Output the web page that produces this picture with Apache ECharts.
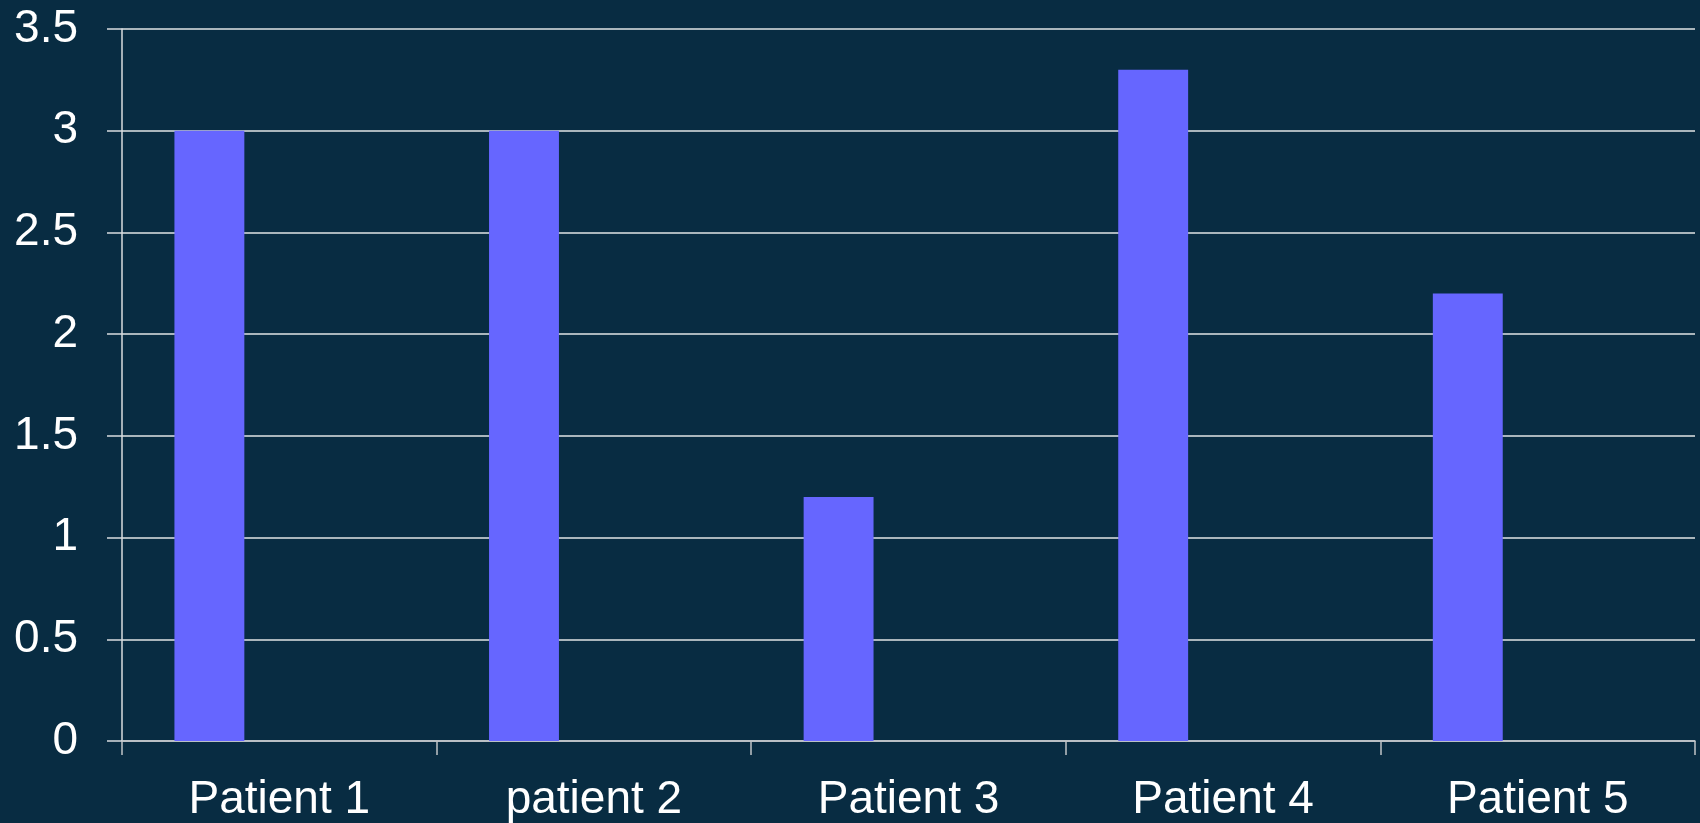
<!DOCTYPE html>
<html>
<head>
<meta charset="utf-8">
<script src="https://cdn.jsdelivr.net/npm/echarts@6/dist/echarts.min.js"></script>
<style>
html,body{margin:0;padding:0;background:#082c42;}
#chart{width:1700px;height:823px;}
</style>
</head>
<body>
<div id="chart"></div>
<script>
const categories = ['Patient 1', 'patient 2', 'Patient 3', 'Patient 4', 'Patient 5'];
const series1 = [3, 3, 1.2, 3.3, 2.2];
const series2 = [];
const series3 = [];
const yTicks = [0, 0.5, 1, 1.5, 2, 2.5, 3, 3.5];

const chart = echarts.init(document.getElementById('chart'));
const font = 'Liberation Sans, Arial, sans-serif';
chart.setOption({
  backgroundColor: '#082c42',
  animation: false,
  grid: { left: 122, right: 5, top: 29, bottom: 82 },
  xAxis: {
    type: 'category',
    data: categories,
    boundaryGap: true,
    axisLine: { lineStyle: { color: '#c0c4c8', width: 1.5 } },
    axisTick: { show: true, length: 14, alignWithLabel: false, lineStyle: { color: '#c0c4c8', width: 1.5 } },
    axisLabel: { color: '#ffffff', fontSize: 46, fontFamily: font, margin: 36 }
  },
  yAxis: {
    type: 'value',
    min: yTicks[0],
    max: yTicks[yTicks.length - 1],
    interval: 0.5,
    axisLine: { show: true, lineStyle: { color: '#d8dcdf', width: 1.5 } },
    axisTick: { show: true, length: 15, lineStyle: { color: '#d8dcdf', width: 1.5 } },
    splitLine: { show: true, lineStyle: { color: '#e0e4e6', width: 1.5 } },
    axisLabel: { color: '#ffffff', fontSize: 46, fontFamily: font, margin: 44 }
  },
  series: [
    { type: 'bar', data: series1, barGap: '0%', barCategoryGap: '33.333%', itemStyle: { color: '#6666ff' } },
    { type: 'bar', data: series2, barGap: '0%', barCategoryGap: '33.333%', itemStyle: { color: '#993366' } },
    { type: 'bar', data: series3, barGap: '0%', barCategoryGap: '33.333%', itemStyle: { color: '#ffffcc' } }
  ]
});
</script>
</body>
</html>
